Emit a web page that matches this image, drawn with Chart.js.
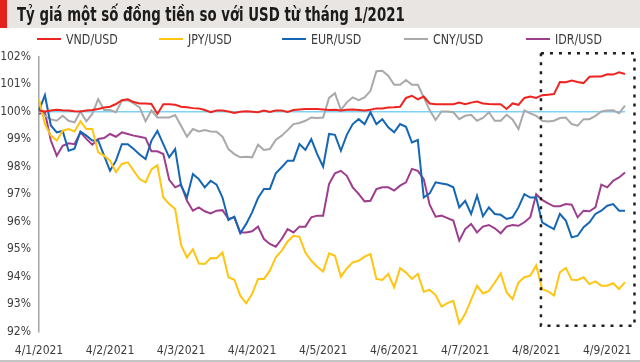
<!DOCTYPE html>
<html>
<head>
<meta charset="utf-8">
<script src="https://cdn.jsdelivr.net/npm/chart.js@4.4.1/dist/chart.umd.min.js"></script>
<style>
  html, body { margin: 0; padding: 0; background: #fff; }
  #wrap { position: relative; width: 640px; height: 362px; overflow: hidden; }
  #title {
    position: absolute; left: 0; top: 0; width: 640px; height: 28px;
    background: #e8e5e2; box-sizing: border-box; border-left: 7px solid #e3211c;
  }
  #title span {
    position: absolute; left: 10px; top: 0; line-height: 29px;
    font-family: "DejaVu Sans Condensed", "Liberation Sans Narrow", Roboto, sans-serif;
    font-weight: bold; font-size: 19px; color: #1b1b1b; white-space: nowrap;
    transform: scaleX(0.78); transform-origin: left center;
  }
  #legend {
    position: absolute; left: 37px; top: 31px; height: 16px; display: flex;
    font-family: "DejaVu Sans Condensed", "Liberation Sans Narrow", Roboto, sans-serif;
    font-size: 14px; color: #3a3a3a; line-height: 16px;
  }
  #legend .item { width: 122.3px; white-space: nowrap; }
  #legend .swatch { display: inline-block; width: 24px; height: 2.5px; margin-right: 5px; vertical-align: middle; position: relative; top: -1px; }
  #legend .txt { display: inline-block; transform: scaleX(0.88); transform-origin: left center; }
  #chartBox { position: absolute; left: 0; top: 0; width: 640px; height: 360px; }
  #bottomLine { position: absolute; left: 0; top: 360px; width: 640px; height: 1.5px; background: #c4c4c4; }
</style>
</head>
<body>
<div id="wrap">
  <div id="chartBox"><canvas id="rateChart" width="640" height="360"></canvas></div>
  <div id="title"><span>Tỷ giá một số đồng tiền so với USD từ tháng 1/2021</span></div>
  <div id="legend"></div>
  <div id="bottomLine"></div>
</div>
<script>
// ---------- DATA ----------
// one point every ~2.5 days, 12 points per month, starting 4/1/2021
const tickLabels = ["4/1/2021", "4/2/2021", "4/3/2021", "4/4/2021", "4/5/2021",
  "4/6/2021", "4/7/2021", "4/8/2021", "4/9/2021"];
const pointsPerMonth = 12;

const vnd = [100.04,100.01,100.04,100.07,100.05,100.04,100.02,100.01,100.04,100.06,
  100.1,100.15,100.18,100.28,100.42,100.45,100.35,100.3,100.3,100.28,
  99.92,100.27,100.27,100.25,100.18,100.16,100.13,100.12,100.06,99.98,
  100.04,100.04,100.01,99.95,100,100.02,100,99.98,100.04,99.99,
  100.04,100.04,99.99,100.06,100.08,100.1,100.1,100.1,100.08,100.06,
  100.07,100.04,100.07,100.08,100.06,100.04,100.07,100.12,100.12,100.15,
  100.16,100.18,100.5,100.58,100.45,100.55,100.3,100.27,100.27,100.27,
  100.27,100.33,100.27,100.33,100.37,100.3,100.28,100.27,100.27,100.1,
  100.3,100.25,100.5,100.55,100.5,100.6,100.62,100.64,101.08,101.07,
  101.13,101.08,101.04,101.27,101.28,101.28,101.36,101.35,101.43,101.37];

const jpy = [100.45,99.55,99.13,98.95,99.31,99.37,99.28,99.65,99.37,99.37,
  98.52,98.4,98.22,97.8,98.1,98.16,97.85,97.55,97.43,97.9,
  98.05,96.88,96.64,96.46,95.15,94.7,95.0,94.48,94.46,94.68,
  94.67,94.88,93.98,93.89,93.31,93.03,93.37,93.92,93.92,94.22,
  94.7,94.95,95.28,95.49,95.45,94.88,94.58,94.36,94.19,94.85,
  94.76,94.0,94.3,94.52,94.58,94.73,94.82,93.92,93.88,94.1,
  93.61,94.31,94.15,93.92,94.1,93.45,93.52,93.33,92.91,93.04,
  93.12,92.3,92.65,93.16,93.67,93.39,93.48,93.79,94.12,93.43,
  93.19,93.79,93.98,94.04,94.41,93.55,93.47,93.31,94.16,94.32,
  93.89,93.88,93.98,93.73,93.83,93.67,93.67,93.76,93.55,93.8];

const eur = [100.04,100.6,99.5,99.25,99.3,98.58,98.65,99.28,99.13,98.95,
  98.95,98.4,97.85,98.22,98.82,98.82,98.64,98.44,98.28,98.95,
  99.3,98.82,98.34,98.64,97.31,96.88,97.73,97.55,97.25,97.49,
  97.35,96.88,96.06,96.18,95.58,95.92,96.34,96.86,97.19,97.19,
  97.76,97.98,98.22,98.22,98.82,98.61,99.0,98.46,98.0,99.19,
  99.16,98.58,99.16,99.55,99.73,99.55,99.98,99.55,99.73,99.43,
  99.25,99.55,99.45,98.88,98.97,96.88,97.03,97.43,97.39,97.35,
  97.25,96.52,96.76,96.28,96.95,96.2,96.52,96.28,96.25,96.1,
  96.16,96.52,97.0,96.88,96.88,95.98,95.85,95.73,96.28,96.04,
  95.43,95.49,95.8,95.98,96.28,96.4,96.58,96.64,96.4,96.4];

const cny = [100.06,99.85,99.72,99.67,99.85,99.67,99.61,100.01,99.65,99.92,
  100.46,100.06,100.06,99.98,100.4,100.42,100.3,100.16,99.65,100.04,
  99.79,99.79,99.79,99.88,99.49,99.09,99.37,99.28,99.33,99.28,
  99.27,99.09,98.64,98.46,98.34,98.36,98.34,98.8,98.61,98.64,
  98.97,99.13,99.33,99.55,99.59,99.67,99.79,99.77,99.79,100.5,
  100.67,100.06,100.34,100.52,100.42,100.52,100.76,101.47,101.49,101.31,
  100.98,100.98,101.15,100.98,100.98,100.52,100.06,99.7,100.01,100.01,
  99.98,99.73,99.85,99.89,99.67,99.77,99.98,99.67,99.67,99.89,
  99.72,99.37,100.05,99.94,99.85,99.67,99.64,99.67,99.77,99.79,
  99.55,99.49,99.73,99.73,99.85,100.01,100.04,100.05,99.94,100.22];

const idr = [99.92,99.98,98.95,98.4,98.76,98.85,98.82,99.25,99.01,98.8,
  99.01,99.04,99.19,99.09,99.25,99.19,99.13,99.09,99.04,98.56,
  98.56,98.46,97.52,97.25,97.35,96.76,96.4,96.52,96.38,96.3,
  96.4,96.42,96.1,96.16,95.61,95.61,95.65,95.82,95.37,95.19,
  95.09,95.37,95.73,95.61,95.82,95.82,96.16,96.22,96.22,97.37,
  97.76,97.85,97.67,97.25,97.01,96.74,96.76,97.19,97.25,97.25,
  97.13,97.31,97.43,97.92,97.85,97.55,96.62,96.18,96.22,96.13,
  96.04,95.31,95.73,95.92,95.61,95.82,95.88,95.76,95.58,95.82,
  95.88,95.85,95.98,96.16,97.0,96.79,96.67,96.56,96.56,96.64,
  96.62,96.16,96.4,96.38,96.52,97.35,97.25,97.49,97.61,97.79];

// highlighted period (dashed frame), in category index / percent units
const highlightFrom = 84.8;
const highlightTo = 100.6;
const highlightTop = 102.13;
const highlightBottom = 92.22;

// ---------- CHART ----------
const FONT = "'DejaVu Sans Condensed', 'Liberation Sans Narrow', Roboto, sans-serif";

const labels = vnd.map((v, i) => i % pointsPerMonth === 0 ? tickLabels[i / pointsPerMonth] : "");

function lineSet(label, data, color) {
  return {
    label: label,
    data: data,
    borderColor: color,
    backgroundColor: color,
    borderWidth: 2,
    pointRadius: 0,
    tension: 0,
    fill: false
  };
}

// dashed frame around the last weeks
const highlightBox = {
  id: "highlightBox",
  afterDatasetsDraw(chart) {
    const { ctx, scales: { x, y } } = chart;
    const x1 = x.getPixelForValue(highlightFrom);
    const x2 = x.getPixelForValue(highlightTo);
    const y1 = y.getPixelForValue(highlightTop);
    const y2 = y.getPixelForValue(highlightBottom);
    ctx.save();
    ctx.strokeStyle = "#1e1e1e";
    ctx.lineWidth = 2.5;
    ctx.setLineDash([3, 6]);
    ctx.strokeRect(x1, y1, x2 - x1, y2 - y1);
    ctx.restore();
  }
};

const chart = new Chart(document.getElementById("rateChart"), {
  type: "line",
  data: {
    labels: labels,
    datasets: [
      lineSet("VND/USD", vnd, "#ee2420"),
      lineSet("JPY/USD", jpy, "#ffc512"),
      lineSet("EUR/USD", eur, "#1666b6"),
      lineSet("CNY/USD", cny, "#a9a9a9"),
      lineSet("IDR/USD", idr, "#9d3e8d")
    ]
  },
  options: {
    responsive: false,
    animation: false,
    devicePixelRatio: 1,
    layout: { padding: { top: 56.7, right: 15, bottom: 0, left: 0 } },
    plugins: {
      legend: { display: false },
      tooltip: { enabled: false }
    },
    scales: {
      x: {
        grid: { display: false, drawTicks: false },
        border: { display: false },
        afterFit: (scale) => { scale.height = 28.3; },
        ticks: {
          autoSkip: false,
          maxRotation: 0,
          padding: 12,
          color: "#3c3c3c",
          font: { family: FONT, size: 12 }
        }
      },
      y: {
        min: 92,
        max: 102,
        afterFit: (scale) => { scale.width = 39; },
        grid: {
          drawTicks: false,
          lineWidth: 1.5,
          color: (c) => c.tick && c.tick.value === 100 ? "#7fd3f2" : "rgba(0,0,0,0)"
        },
        border: { display: true, color: "#a5a5a5", width: 1.5 },
        ticks: {
          stepSize: 1,
          padding: 8,
          color: "#3c3c3c",
          font: { family: FONT, size: 12 },
          callback: (v) => v + "%"
        }
      }
    }
  },
  plugins: [highlightBox]
});

// ---------- LEGEND (html) ----------
const legendEl = document.getElementById("legend");
chart.data.datasets.forEach(ds => {
  const item = document.createElement("div");
  item.className = "item";
  item.innerHTML = `<span class="swatch" style="background:${ds.borderColor}"></span><span class="txt">${ds.label}</span>`;
  legendEl.appendChild(item);
});
</script>
</body>
</html>
